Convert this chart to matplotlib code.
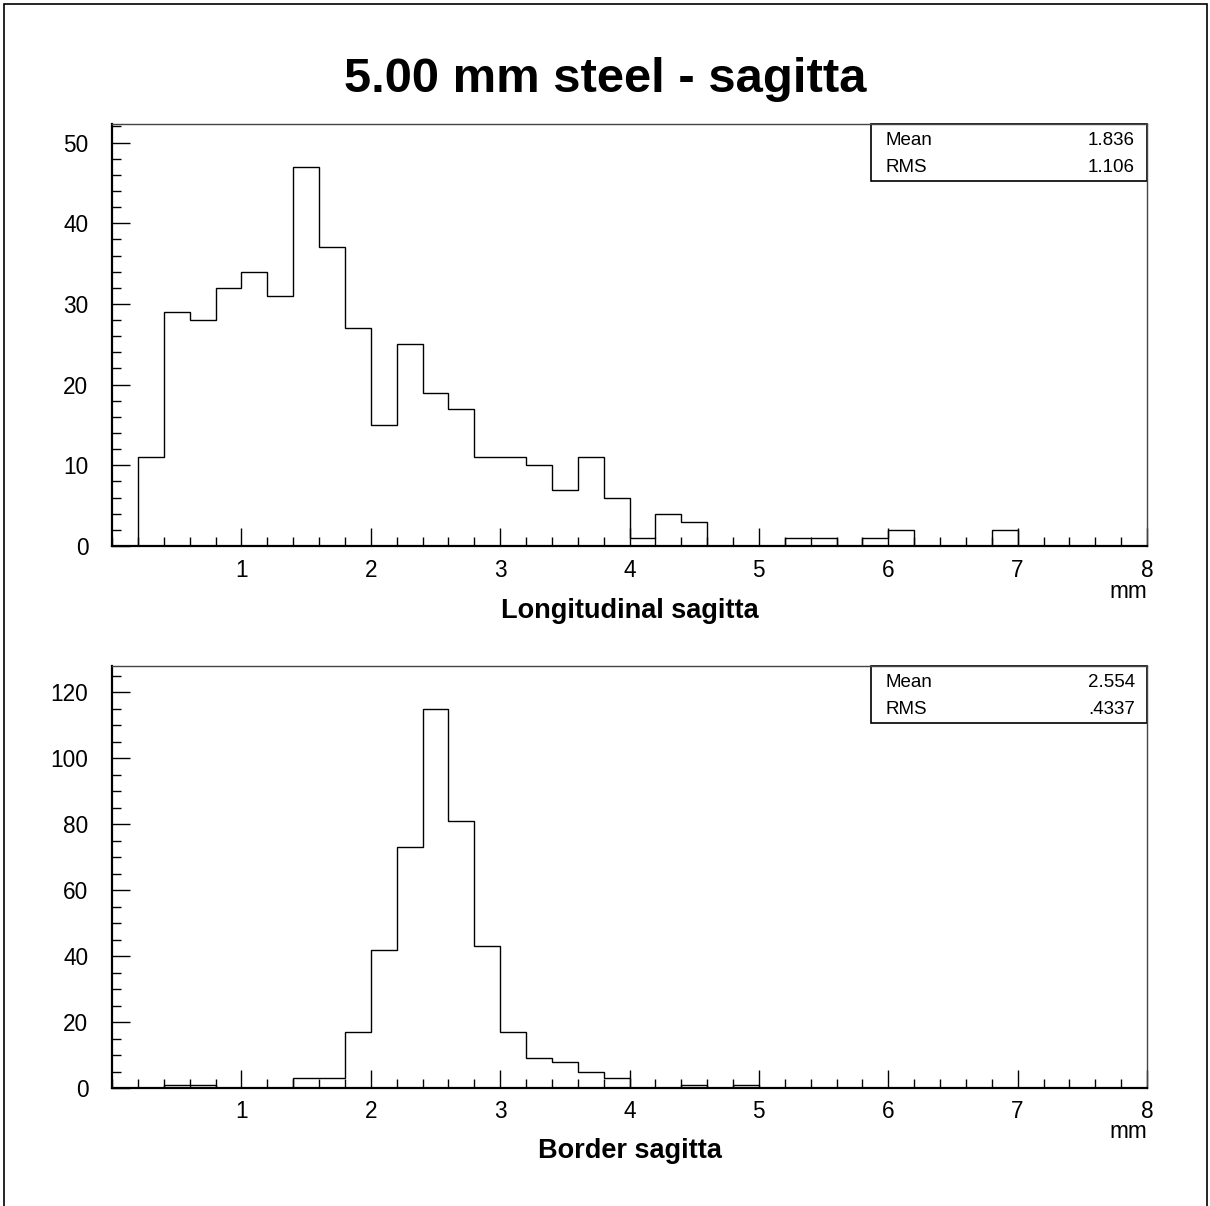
import numpy as np
import matplotlib
matplotlib.use('Agg')
import matplotlib.pyplot as plt
from matplotlib.patches import Rectangle
from matplotlib.ticker import MultipleLocator

plt.rcParams['font.family'] = ['Liberation Sans', 'DejaVu Sans']

# bin edges: 40 bins of 0.2 mm between 0 and 8
edges = np.linspace(0, 8, 41)

# Longitudinal sagitta counts per bin
longitudinal = [0, 11, 29, 28, 32, 34, 31, 47, 37, 27,
                15, 25, 19, 17, 11, 11, 10, 7, 11, 6,
                1, 4, 3, 0, 0, 0, 1, 1, 0, 1,
                2, 0, 0, 0, 2, 0, 0, 0, 0, 0]

# Border sagitta counts per bin
border = [0, 0, 1, 1, 0, 0, 0, 3, 3, 17,
          42, 73, 115, 81, 43, 17, 9, 8, 5, 3,
          0, 0, 1, 0, 1, 0, 0, 0, 0, 0,
          0, 0, 0, 0, 0, 0, 0, 0, 0, 0]

stat_names = ['Mean', 'RMS']
long_stats = ['1.836', '1.106']
border_stats = ['2.554', '.4337']

x_labels = ['Longitudinal sagitta', 'Border sagitta']
title = '5.00 mm steel - sagitta'

W, H = 1210, 1206
fig = plt.figure(figsize=(W / 100, H / 100), dpi=100)

# outer pad frame
fig.patches.append(Rectangle((4 / W, -0.01), 1203 / W, 1 - 4 / H + 0.01,
                             transform=fig.transFigure, fill=False,
                             edgecolor='black', linewidth=1.2))

fig.text(0.5, 1 - 79 / H, title, ha='center', va='center',
         fontsize=35.3, fontweight='bold')


def draw_panel(ax, counts, ymax, ymajor, yminor, stats, xlabel, label_y, mm_y):
    ax.stairs(counts, edges, color='black', linewidth=1.0, baseline=0)
    ax.set_xlim(0, 8)
    ax.set_ylim(0, ymax)
    ax.set_xticks(np.arange(1, 9))
    ax.xaxis.set_minor_locator(MultipleLocator(0.2))
    ax.yaxis.set_major_locator(MultipleLocator(ymajor))
    ax.yaxis.set_minor_locator(MultipleLocator(yminor))
    ax.tick_params(which='both', direction='in', top=False, right=False,
                   labelsize=16.3, width=1.0, color='black')
    ax.tick_params(which='major', length=13)
    ax.tick_params(which='minor', length=6.5)
    ax.tick_params(axis='x', pad=9)
    ax.tick_params(axis='y', pad=17)
    for side in ['left', 'bottom']:
        ax.spines[side].set_linewidth(1.6)
    for side in ['top', 'right']:
        ax.spines[side].set_linewidth(1.0)
        ax.spines[side].set_color('#444444')

    # stats box
    ax.add_patch(Rectangle((0.7333, 0.865), 1 - 0.7333, 0.135,
                           transform=ax.transAxes, fill=False,
                           edgecolor='black', linewidth=1.2, clip_on=False))
    for name, val, yy in zip(stat_names, stats, [0.962, 0.898]):
        ax.text(0.7469, yy, name, transform=ax.transAxes, ha='left',
                va='center', fontsize=13.5)
        ax.text(0.9884, yy, val, transform=ax.transAxes, ha='right',
                va='center', fontsize=13.5)

    fig.text(630 / W, label_y, xlabel, ha='center', va='center',
             fontsize=19.5, fontweight='bold')
    fig.text(1147 / W, mm_y, 'mm', ha='right', va='center', fontsize=16.3)


ax1 = fig.add_axes([112 / W, 1 - 546 / H, 1035 / W, 422 / H])
draw_panel(ax1, longitudinal, 52.3, 10, 2, long_stats, x_labels[0],
           1 - 611 / H, 1 - 591 / H)

ax2 = fig.add_axes([112 / W, 1 - 1088 / H, 1035 / W, 422 / H])
draw_panel(ax2, border, 128, 20, 5, border_stats, x_labels[1],
           1 - 1151 / H, 1 - 1132 / H)

fig.savefig('out.png', dpi=100, facecolor='white')
